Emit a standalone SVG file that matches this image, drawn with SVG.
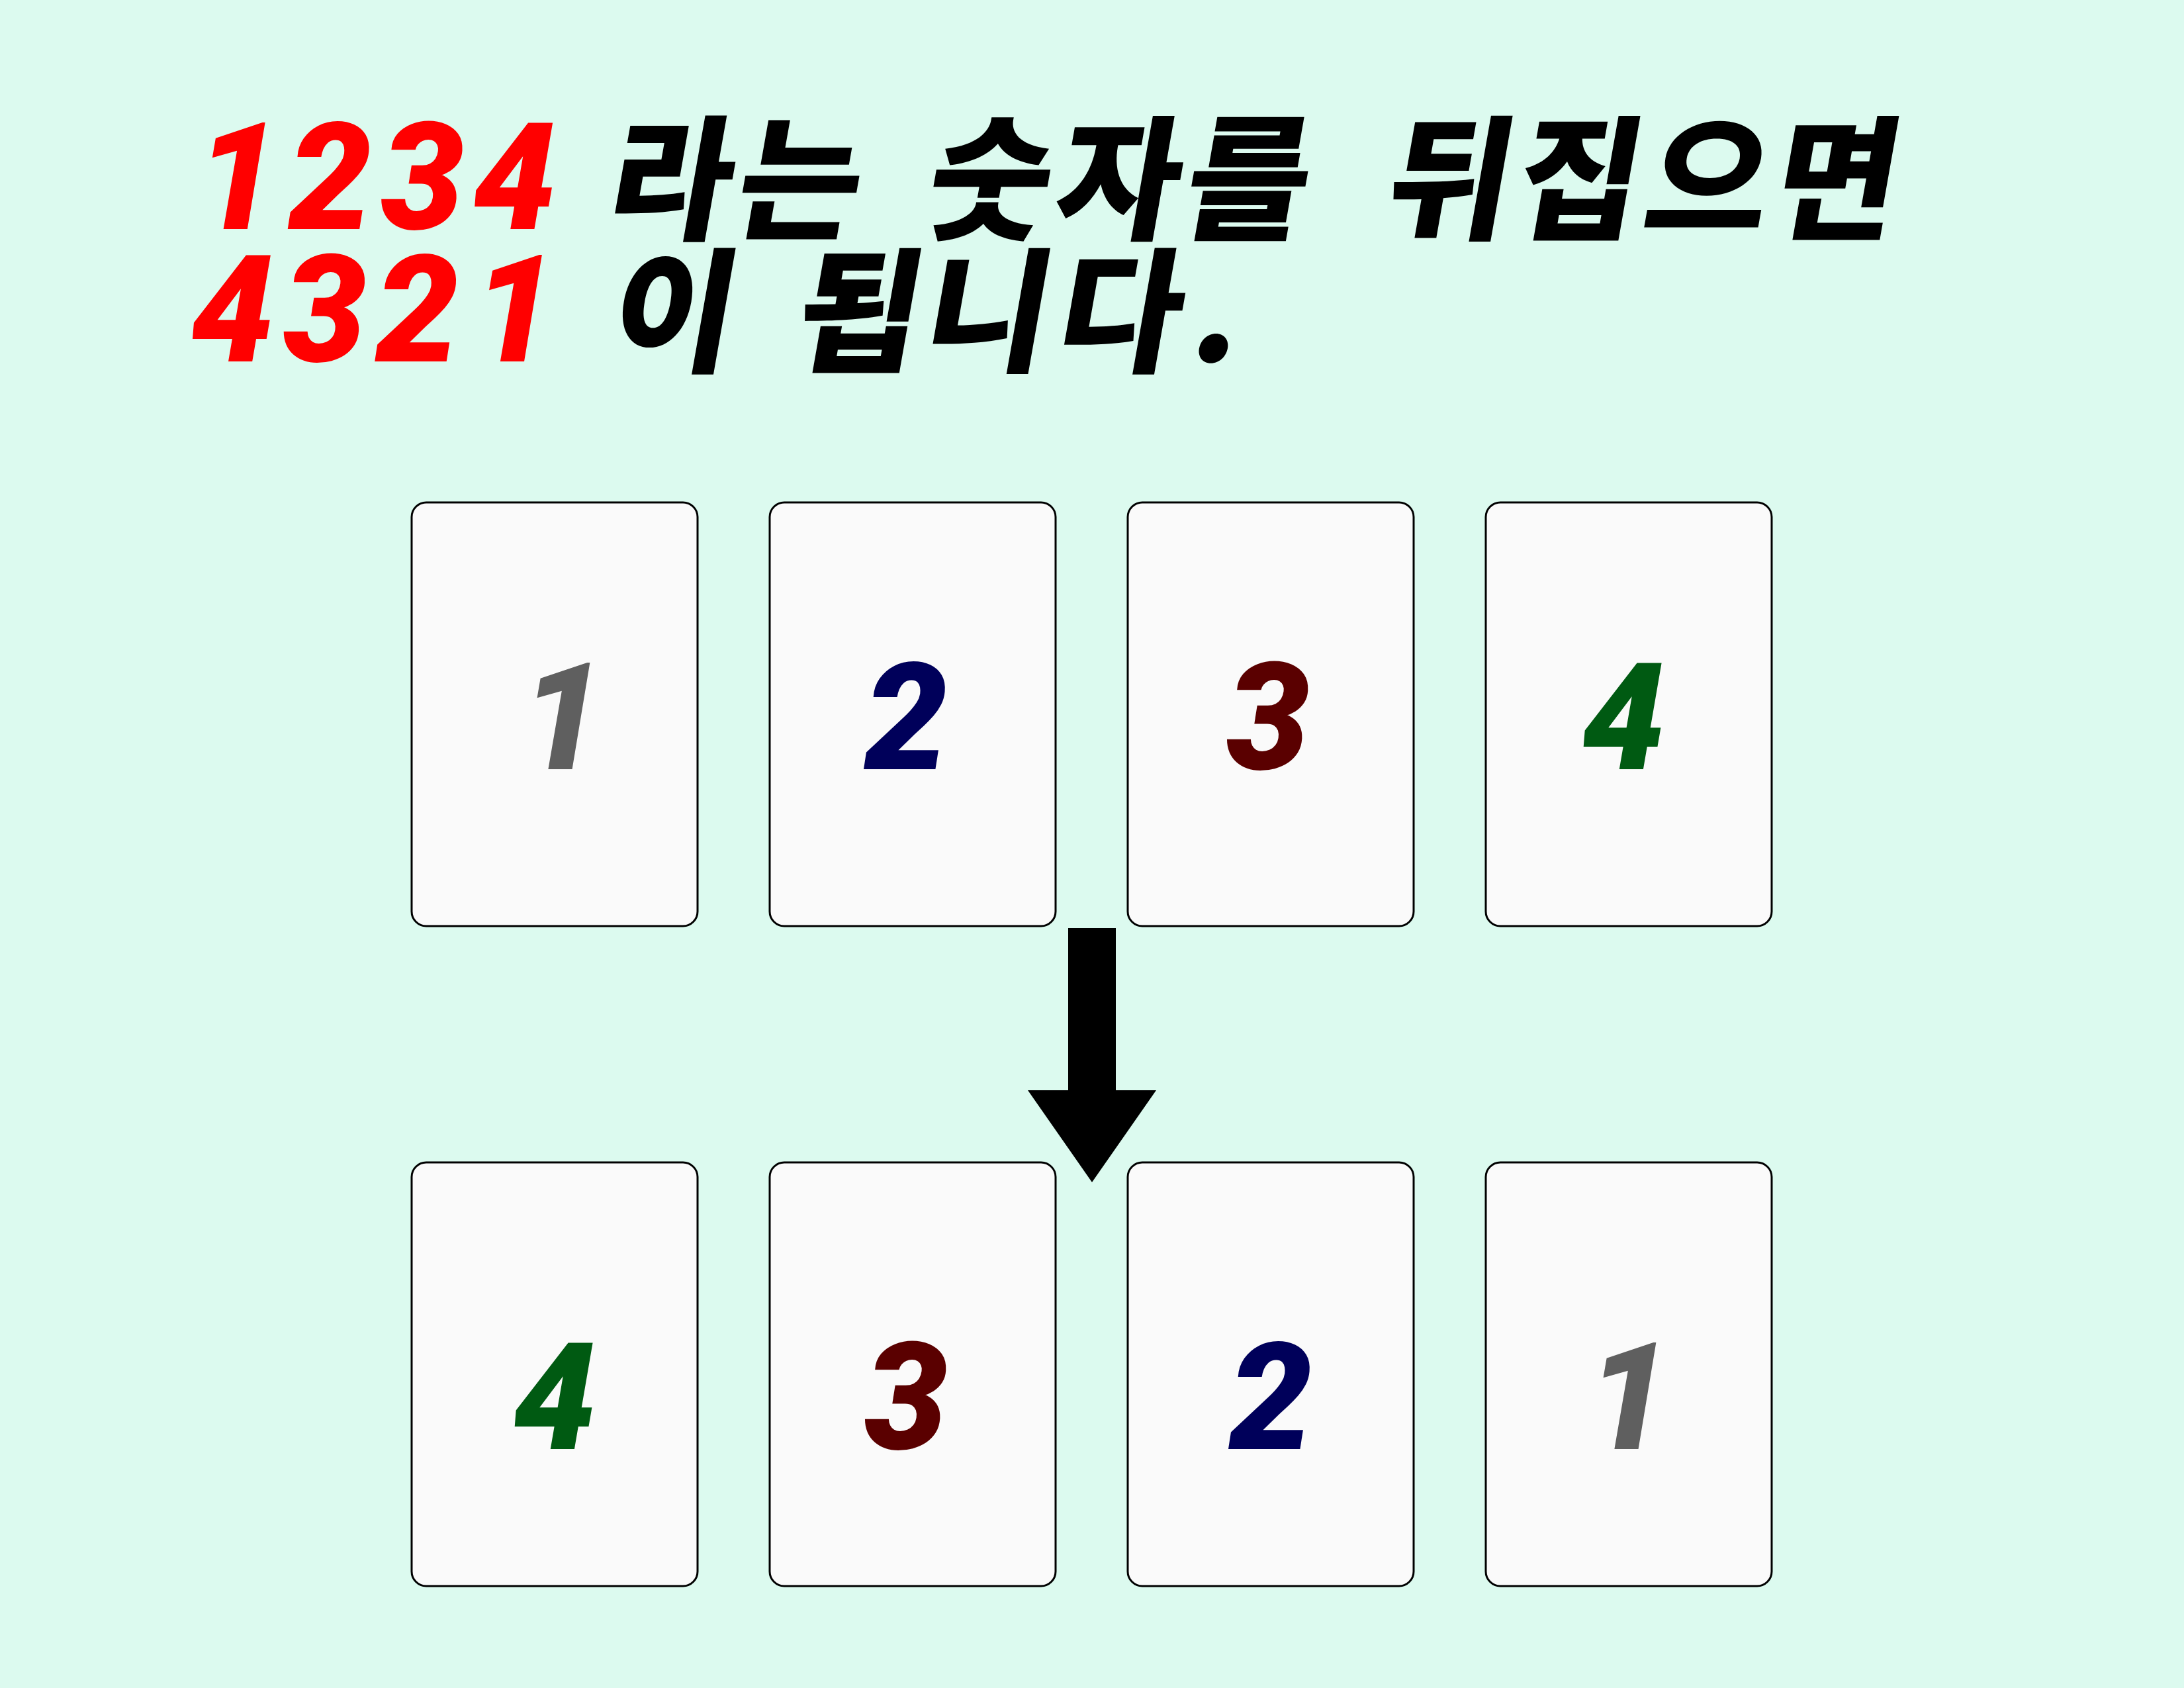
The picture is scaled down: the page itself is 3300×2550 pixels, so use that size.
<svg xmlns="http://www.w3.org/2000/svg" width="3300" height="2550" viewBox="0 0 3300 2550">
  <style>
    .card { fill: #fafafa; stroke: #000000; stroke-width: 3; }
    .num { font-family: Roboto, "Liberation Sans", sans-serif; font-weight: 900; font-style: italic; font-size: 225px; text-anchor: middle; }
    .digits { font-family: Roboto, "Liberation Sans", sans-serif; font-weight: 900; font-style: italic; font-size: 225px; letter-spacing: 13px; fill: #ff0000; }
    .ko { font-family: "Noto Sans CJK KR", sans-serif; font-weight: 900; font-size: 203px; letter-spacing: 8px; fill: #000000; }
  </style>
  <rect x="0" y="0" width="3300" height="2550" fill="#dcfaef"/>
  <g id="title">
    <text class="digits" x="296" y="346">1234</text>
    <text class="ko" transform="translate(910,346) skewX(-10)">라는</text>
    <text class="ko" transform="translate(1392,346) skewX(-10)">숫자를</text>
    <text class="ko" transform="translate(2087,346) skewX(-10)">뒤집으면</text>
    <text class="digits" x="288" y="546">432<tspan dx="8">1</tspan></text>
    <text class="ko" transform="translate(915,546) skewX(-10)">이</text>
    <text class="ko" transform="translate(1194,546) skewX(-10)">됩니<tspan dx="6">다</tspan><tspan dx="10">.</tspan></text>
  </g>
  <g id="top-row">
    <g id="card-top-1"><rect class="card" x="622" y="759" width="432" height="640" rx="22"/><text class="num" x="850" y="1162" fill="#5f5f5f">1</text></g>
    <g id="card-top-2"><rect class="card" x="1163" y="759" width="432" height="640" rx="22"/><text class="num" x="1369" y="1162" fill="#00005a">2</text></g>
    <g id="card-top-3"><rect class="card" x="1704" y="759" width="432" height="640" rx="22"/><text class="num" x="1916" y="1162" fill="#5a0000">3</text></g>
    <g id="card-top-4"><rect class="card" x="2245" y="759" width="432" height="640" rx="22"/><text class="num" x="2453" y="1162" fill="#005a12">4</text></g>
  </g>
  <g id="bottom-row">
    <g id="card-bottom-1"><rect class="card" x="622" y="1756" width="432" height="640" rx="22"/><text class="num" x="838" y="2189" fill="#005a12">4</text></g>
    <g id="card-bottom-2"><rect class="card" x="1163" y="1756" width="432" height="640" rx="22"/><text class="num" x="1369" y="2189" fill="#5a0000">3</text></g>
    <g id="card-bottom-3"><rect class="card" x="1704" y="1756" width="432" height="640" rx="22"/><text class="num" x="1920" y="2189" fill="#00005a">2</text></g>
    <g id="card-bottom-4"><rect class="card" x="2245" y="1756" width="432" height="640" rx="22"/><text class="num" x="2461" y="2189" fill="#5f5f5f">1</text></g>
  </g>
  <g id="connectors">
    <polygon points="1614,1402 1686,1402 1686,1647 1747,1647 1650,1786 1553,1647 1614,1647" fill="#000000"/>
  </g>
</svg>
